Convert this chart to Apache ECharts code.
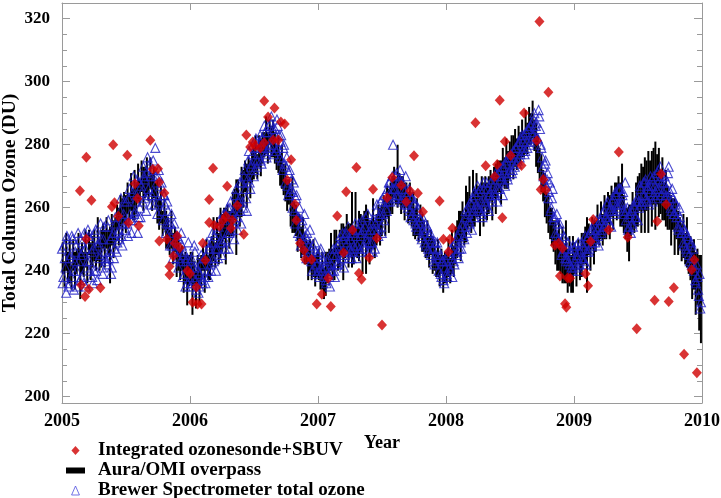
<!DOCTYPE html>
<html><head><meta charset="utf-8">
<script src="https://cdn.jsdelivr.net/npm/echarts@6/dist/echarts.min.js"></script>
<style>html,body{margin:0;padding:0;background:#fff}#c{width:721px;height:498px}</style>
</head><body><div id="c"></div>
<script>
// ---------- tick labels ----------
const xTickYears = [2005, 2006, 2007, 2008, 2009, 2010];
const yTickValues = [200, 220, 240, 260, 280, 300, 320];
const yMinorTickValues = [205, 210, 215, 225, 230, 235, 245, 250, 255, 265, 270, 275, 285, 290, 295, 305, 310, 315];
const years = [2005, 2006, 2007, 2008, 2009];

// ---------- Integrated ozonesonde+SBUV (red diamonds) ----------
const sondeDates = [
  2005.14, 2005.15, 2005.19, 2005.19, 2005.18, 2005.21, 2005.23, 2005.30, 2005.39, 2005.40, 2005.41, 2005.44,
  2005.51, 2005.52, 2005.57, 2005.59, 2005.60, 2005.69, 2005.71, 2005.75, 2005.76, 2005.80, 2005.76, 2005.82,
  2005.90, 2005.88, 2005.92, 2005.87, 2005.84, 2005.84, 2005.98, 2006.00,
  2006.05, 2006.02, 2006.06, 2006.09, 2006.10, 2006.12, 2006.15, 2006.18, 2006.15, 2006.19, 2006.23, 2006.26,
  2006.28, 2006.33, 2006.32, 2006.29, 2006.37, 2006.42, 2006.44, 2006.47, 2006.49, 2006.51, 2006.55, 2006.58,
  2006.58, 2006.61, 2006.66, 2006.65, 2006.69, 2006.71, 2006.74, 2006.79, 2006.76, 2006.82, 2006.83, 2006.86,
  2006.89, 2006.90, 2006.95,
  2006.99, 2007.03, 2007.08, 2007.10, 2007.15, 2007.20, 2007.22, 2007.27, 2007.30, 2007.32, 2007.34, 2007.40,
  2007.43, 2007.46, 2007.50, 2007.54, 2007.58, 2007.65, 2007.69, 2007.72, 2007.78, 2007.75, 2007.82, 2007.95,
  2007.98, 2008.03, 2008.02, 2008.05,
  2008.23, 2008.31, 2008.40, 2008.38, 2008.42, 2008.44, 2008.46, 2008.505, 2008.59, 2008.61, 2008.71, 2008.73,
  2008.76, 2008.74, 2008.78, 2008.80, 2008.85, 2008.88, 2008.91, 2008.89, 2008.95, 2008.93, 2008.94, 2008.97,
  2009.09, 2009.11, 2009.13, 2009.15, 2009.27, 2009.35, 2009.42, 2009.49, 2009.63, 2009.65, 2009.68, 2009.72,
  2009.74, 2009.78, 2009.86, 2009.92, 2009.94, 2009.96
];
const sondeValues = [
  265.4, 235.5, 276.0, 250.1, 231.8, 234.1, 262.4, 234.6, 260.3, 280.0, 261.6, 257.3,
  276.7, 255.2, 267.6, 262.9, 254.3, 281.4, 272.2, 272.4, 268.1, 264.7, 249.4, 250.0,
  251.0, 248.7, 247.3, 244.7, 241.3, 238.7, 240.0, 239.0,
  234.8, 230.0, 229.4, 229.4, 248.7, 243.3, 262.6, 272.5, 255.3, 254.4, 254.1, 256.0,
  257.3, 256.0, 253.5, 266.8, 260.7, 251.6, 283.1, 279.3, 280.9, 279.6, 279.0, 280.6,
  293.9, 288.8, 291.7, 281.5, 281.5, 287.2, 286.6, 275.2, 268.7, 261.1, 256.0, 248.7,
  246.5, 243.6, 243.6,
  229.4, 232.5, 237.6, 228.6, 257.4, 245.7, 265.1, 252.9, 272.8, 239.2, 237.3, 244.1,
  265.9, 250.3, 222.8, 263.2, 269.6, 267.1, 261.9, 265.3, 264.6, 276.5, 258.7, 262.1,
  250.0, 250.0, 246.0, 253.5,
  287.0, 273.3, 273.7, 269.9, 294.1, 256.8, 281.0, 276.6, 273.4, 290.1, 281.3, 319.1,
  269.0, 265.8, 265.6, 296.7, 248.1, 248.7, 247.1, 238.3, 237.7, 229.5, 228.4, 237.6,
  239.0, 235.2, 249.3, 256.3, 252.9, 277.7, 250.6, 221.6, 230.6, 255.7, 270.7, 261.0,
  230.2, 234.6, 213.5, 240.3, 243.5, 207.6
];

// ---------- Aura/OMI overpass (black bars), one value every 5 days ----------
const omi2005 = [244,239,246,241,243,238, 245,240,243,247,239,244, 242,247,241,249,243,246, 248,244,250,245,247,251, 247,252,249,245,253,250, 252,257,254,259,256,260, 258,263,260,265,261,264, 263,268,265,270,266,268, 270,266,271,265,268,264, 262,258,261,255,258,253, 252,249,253,247,250,245, 246,242,244,239,241,237,240];
const omiErr2005 = [5,4,6,5,7,4, 5,6,4,5,8,5, 4,6,5,4,6,5, 5,4,7,5,6,4, 6,5,4,9,5,6, 5,4,6,5,7,5, 6,5,4,6,5,8, 5,6,4,5,7,5, 6,4,5,6,5,4, 7,5,6,4,5,6, 5,4,6,5,4,7, 6,5,4,6,5,8,5];
const omi2006 = [241,236,239,234,240,237, 240,244,239,245,241,243, 246,250,245,251,247,252, 252,255,251,256,253,255, 258,261,257,263,259,265, 266,270,267,272,269,273, 274,277,273,278,276,279, 280,283,279,284,281,282, 279,276,277,272,273,269, 268,264,265,260,261,257, 256,252,254,249,251,247, 246,243,245,241,244,240,242];
const omiErr2006 = [5,10,4,6,5,7, 5,4,6,5,4,6, 5,7,4,6,5,8, 6,5,9,5,6,4, 7,5,12,6,5,8, 6,5,7,4,6,5, 5,6,4,5,6,5, 4,6,5,4,5,6, 5,4,6,5,7,5, 6,5,4,6,9,5, 5,6,4,5,6,5, 4,6,5,4,6,5,4];
const omi2007 = [242,238,240,236,239,241, 243,246,242,245,248,244, 247,250,246,249,252,248, 250,253,248,255,249,251, 252,248,254,250,253,249, 251,255,250,253,257,254, 256,260,257,262,259,263, 264,268,265,270,266,264, 265,262,264,260,262,259, 258,255,257,253,256,252, 251,248,250,246,249,245, 245,242,244,240,243,239,241];
const omiErr2007 = [5,4,6,5,7,5, 4,6,5,8,5,4, 6,5,9,5,6,7, 5,12,6,10,5,8, 6,9,5,11,6,7, 5,8,6,5,4,6, 5,4,6,5,7,5, 6,5,4,10,5,6, 5,6,4,5,6,5, 7,5,6,4,5,6, 5,4,6,5,4,6, 5,4,6,5,4,6,5];
const omi2008 = [241,244,240,246,243,248, 250,254,251,256,253,258, 259,262,257,263,260,264, 262,259,264,261,265,262, 264,267,263,268,266,269, 270,268,273,271,274,272, 275,278,276,279,277,280, 279,282,280,284,282,286, 285,288,283,280,277,274, 271,267,264,260,258,255, 254,251,249,246,248,244, 245,242,246,240,243,239,242];
const omiErr2008 = [5,6,4,7,5,6, 6,5,8,6,5,9, 6,8,5,9,6,7, 5,8,6,7,5,6, 6,5,7,5,8,6, 5,7,6,5,8,6, 6,5,7,6,5,6, 5,6,4,7,5,6, 5,6,5,7,6,5, 6,5,7,5,6,5, 6,5,7,6,8,5, 9,6,10,7,8,6,9];
const omi2009 = [244,241,246,242,245,247, 248,245,250,246,252,249, 251,255,252,256,253,257, 256,260,257,262,259,263, 262,265,261,264,258,255, 253,252,256,259,257,261, 262,265,263,266,264,267, 265,268,266,270,267,269, 268,265,266,262,263,260, 259,256,258,254,256,252, 252,249,251,247,249,245, 244,240,242,236,238,233,231];
const omiErr2009 = [5,6,4,5,7,5, 6,12,5,6,5,7, 5,6,4,6,5,7, 6,5,7,5,6,5, 6,5,7,10,6,5, 7,9,5,6,5,7, 8,6,11,7,12,8, 13,7,12,9,14,8, 11,7,10,6,9,7, 6,8,5,9,6,7, 5,6,7,5,8,6, 7,9,8,10,9,12,14];

// ---------- Brewer Spectrometer total ozone (blue triangles) ----------
// set A: days 2, 6, 10, ... of each year
const brewer2005 = [236,248,241,251,235, 244,238,250,234,246, 240,252,237,245, 249,236,247,241,253, 243,250,238,247, 252,240,248,244,255, 241,250,246,243, 254,244,250,241,252, 247,255,249,253, 259,251,256,262,253, 255,263,258,252, 265,258,262,269,257, 260,267,262,270, 263,271,266,274,261, 272,265,279,268, 270,262,267,259,264, 261,255,259,252, 255,248,253,246,250, 244,250,243,248, 245,239,243,236,241];
const brewer2006 = [243,236,241,246,234, 240,235,242,237,244, 238,245,240,247, 242,249,244,251,240, 247,254,249,245, 256,250,258,252,247, 260,253,258,250, 264,257,262,268,255, 262,270,266,259, 275,268,273,277,270, 279,273,277,281, 275,282,279,284,276, 284,279,287,282, 280,285,278,286,283, 281,275,279,274, 273,267,271,265,269, 265,259,263,257, 257,251,255,249,258, 246,252,248,253, 243,248,241,246,242];
const brewer2007 = [240,246,241,244,238, 237,243,239,235,242, 245,240,247,242, 243,249,246,252,241, 251,246,254,247, 246,252,248,255,244, 253,247,251,256, 248,254,250,258,246, 253,249,256,247, 259,253,257,262,252, 258,264,260,266, 268,262,266,280,263, 270,264,268,272, 262,268,265,270,261, 265,259,263,258, 261,255,259,253,257, 251,257,252,255, 253,247,251,245,249, 243,249,244,247, 244,239,243,237,241];
const brewer2008 = [239,245,241,247,238, 243,249,245,251,247, 249,255,251,257, 254,260,256,262,253, 259,265,261,267, 260,266,258,268,263, 261,266,259,265, 263,269,265,271,262, 271,266,270,264, 268,274,270,276,272, 277,272,275,279, 274,280,276,282,278, 283,278,281,285, 280,286,284,288,282, 287,282,289,280, 276,270,274,267,271, 265,259,263,257, 257,251,255,249,253, 245,250,247,243, 247,243,246,241,248];
const brewer2009 = [243,248,244,240,246, 249,244,247,242,250, 246,252,248,251, 255,250,253,248,256, 252,258,254,257, 261,256,259,254,262, 259,265,261,266, 266,261,264,259,268, 259,253,257,252, 255,261,257,262,256, 260,266,262,268, 268,263,266,261,270, 269,264,267,263, 271,266,273,268,265, 270,264,268,273, 265,259,263,258,261, 259,253,257,252, 254,248,252,246,250, 243,249,244,240, 237,242,234,239,230];
// set B: days 0, 4, 8, ... of each year
const brewerB2005 = [247,238,244,233,250, 236,245,251,240,243, 248,235,243,250, 238,246,252,235,243, 251,240,246,236, 240,253,237,249,245, 250,239,254,244, 242,256,246,239,251, 244,257,246,252, 250,263,248,258,255, 262,251,266,256, 256,270,259,264,252, 268,257,265,273, 269,259,276,264,270, 264,275,261,270, 258,272,264,268,256, 264,252,262,255, 248,258,244,255,247, 251,241,246,252, 238,246,235,244,249];
const brewerB2006 = [235,244,238,248,237, 241,233,239,245,236, 244,236,249,238, 248,240,252,243,247, 253,244,256,250, 249,258,247,255,260, 252,262,255,259, 256,266,253,263,259, 268,260,272,263, 269,278,266,274,280, 272,282,275,279, 283,274,280,286,277, 278,286,280,289, 285,277,283,288,279, 276,283,272,280, 268,276,264,272,266, 260,268,255,264, 252,260,248,256,250, 251,244,250,246, 247,240,244,249,239];
const brewerB2007 = [245,238,247,240,243, 241,236,244,238,240, 240,247,238,245, 248,242,251,244,250, 245,252,249,244, 250,244,253,247,251, 248,255,246,252, 253,247,257,249,252, 249,255,246,253, 255,261,251,258,254, 263,256,262,259, 262,268,264,270,266, 266,271,263,269, 268,263,266,261,264, 260,266,257,263, 256,262,254,260,255, 256,250,253,249, 248,254,246,252,250, 247,242,245,249, 240,245,238,243,236];
const brewerB2008 = [243,238,246,240,244, 248,242,250,246,244, 253,247,254,250, 259,252,258,255,261, 263,257,264,260, 265,259,262,257,266, 262,268,260,264, 268,262,267,264,270, 266,272,269,273, 273,267,275,269,271, 276,271,278,273, 279,275,281,277,283, 281,277,284,279, 285,281,287,283,290, 286,282,291,285, 279,273,268,275,269, 263,268,260,266, 256,252,258,250,255, 249,246,251,244, 244,249,242,246,240];
const brewerB2009 = [247,241,245,249,242, 244,248,243,251,246, 251,247,253,249, 253,249,256,251,254, 256,253,259,255, 257,262,255,260,259, 263,258,264,260, 261,266,262,265,258, 256,260,254,258, 259,254,260,257,263, 262,267,261,264, 264,269,262,267,265, 267,262,270,265, 266,272,269,264,270, 268,263,266,271, 263,260,266,258,262, 257,254,260,255, 252,249,253,247,251, 245,248,242,247, 241,236,238,232,228];

// ---------- build library data ----------
const omiYears = [omi2005, omi2006, omi2007, omi2008, omi2009];
const omiErrYears = [omiErr2005, omiErr2006, omiErr2007, omiErr2008, omiErr2009];
const brewerYears = [brewer2005, brewer2006, brewer2007, brewer2008, brewer2009];
const brewerBYears = [brewerB2005, brewerB2006, brewerB2007, brewerB2008, brewerB2009];

const omiData = [];
omiYears.forEach((arr, k) => arr.forEach((v, i) => {
  const e = omiErrYears[k][i];
  omiData.push([years[k] + (5 * i + 2) / 365, v - e, v + e]);
}));
const brewerData = [];
brewerYears.forEach((arr, k) => arr.forEach((v, i) => {
  brewerData.push([years[k] + (4 * i + 2) / 365, v]);
}));
brewerBYears.forEach((arr, k) => arr.forEach((v, i) => {
  brewerData.push([years[k] + (4 * i) / 365, v]);
}));
const sondeData = sondeDates.map((d, i) => [d, sondeValues[i]]);

const FONT = '"Liberation Serif", "Times New Roman", serif';
const axisGrey = '#9a9a9a';

const chart = echarts.init(document.getElementById('c'), null, {renderer: 'canvas'});

const yBase = {type: 'value', min: 198, max: 325, splitLine: {show: false}};
const xBase = {type: 'value', min: xTickYears[0], max: xTickYears[xTickYears.length - 1], interval: 1, splitLine: {show: false}};

chart.setOption({
  animation: false,
  backgroundColor: '#ffffff',
  grid: {left: 62, right: 19, top: 3, bottom: 95, containLabel: false, outerBoundsMode: 'none'},
  xAxis: [
    Object.assign({}, xBase, {
      position: 'bottom',
      axisLine: {show: true, onZero: false, lineStyle: {color: axisGrey, width: 1}},
      axisTick: {show: true, inside: true, length: 7, lineStyle: {color: axisGrey}},
      axisLabel: {show: true, margin: 9, color: '#000', fontFamily: FONT, fontWeight: 'bold', fontSize: 18,
                  formatter: v => String(v)},
      name: 'Year', nameLocation: 'middle', nameGap: 31, nameMoveOverlap: false,
      nameTextStyle: {color: '#000', fontFamily: FONT, fontWeight: 'bold', fontSize: 18}
    }),
    Object.assign({}, xBase, {
      position: 'top',
      axisLine: {show: true, onZero: false, lineStyle: {color: axisGrey, width: 1}},
      axisTick: {show: true, inside: true, length: 7, lineStyle: {color: axisGrey}},
      axisLabel: {show: false}
    })
  ],
  yAxis: [
    Object.assign({}, yBase, {
      position: 'left',
      axisLine: {show: true, lineStyle: {color: axisGrey, width: 1}},
      axisTick: {show: true, inside: true, length: 8, customValues: yTickValues, lineStyle: {color: axisGrey}},
      axisLabel: {show: true, customValues: yTickValues, margin: 12, color: '#000', fontFamily: FONT, fontWeight: 'bold', fontSize: 17},
      name: 'Total Column Ozone (DU)', nameLocation: 'middle', nameGap: 42, nameRotate: 90, nameMoveOverlap: false,
      nameTextStyle: {color: '#000', fontFamily: FONT, fontWeight: 'bold', fontSize: 19.5}
    }),
    Object.assign({}, yBase, {
      position: 'left',
      axisLine: {show: false},
      axisTick: {show: true, inside: true, length: 5, customValues: yMinorTickValues, lineStyle: {color: axisGrey}},
      axisLabel: {show: false}
    }),
    Object.assign({}, yBase, {
      position: 'right',
      axisLine: {show: true, lineStyle: {color: axisGrey, width: 1}},
      axisTick: {show: true, inside: true, length: 8, customValues: yTickValues, lineStyle: {color: axisGrey}},
      axisLabel: {show: false}
    }),
    Object.assign({}, yBase, {
      position: 'right',
      axisLine: {show: false},
      axisTick: {show: true, inside: true, length: 5, customValues: yMinorTickValues, lineStyle: {color: axisGrey}},
      axisLabel: {show: false}
    })
  ],
  legend: {
    orient: 'vertical', left: 66, top: 441, padding: 0, height: 60,
    itemWidth: 19, itemHeight: 9, itemGap: 1,
    selectedMode: false,
    textStyle: {color: '#000', fontFamily: FONT, fontWeight: 'bold', fontSize: 19, lineHeight: 18, padding: [0, 0, 0, 8]},
    data: [
      {name: 'Integrated ozonesonde+SBUV', icon: 'path://M5,0 L10,5.5 L5,11 L0,5.5 Z', itemStyle: {color: '#d00000'}},
      {name: 'Aura/OMI overpass', icon: 'path://M0,0 L19,0 L19,6 L0,6 Z', itemStyle: {color: '#000000'}},
      {name: 'Brewer Spectrometer total ozone', icon: 'path://M3.5,0 L7,8 L0,8 Z',
       itemStyle: {color: 'rgba(0,0,0,0)', borderColor: '#5050e0', borderWidth: 1}}
    ]
  },
  series: [
    {
      name: 'Aura/OMI overpass', type: 'custom', xAxisIndex: 0, yAxisIndex: 0, z: 1,
      itemStyle: {color: '#000000'},
      encode: {x: 0, y: [1, 2]},
      data: omiData,
      renderItem: function (params, api) {
        const x = api.value(0);
        const lo = api.coord([x, api.value(1)]);
        const hi = api.coord([x, api.value(2)]);
        return {type: 'rect', shape: {x: lo[0] - 1, y: hi[1], width: 2, height: lo[1] - hi[1]},
                style: {fill: '#000000'}};
      }
    },
    {
      name: 'Brewer Spectrometer total ozone', type: 'scatter', xAxisIndex: 0, yAxisIndex: 0, z: 2,
      symbol: 'triangle', symbolSize: 9,
      itemStyle: {color: 'rgba(0,0,0,0)', borderColor: '#1e1ec4', borderWidth: 1.1},
      data: brewerData
    },
    {
      name: 'Integrated ozonesonde+SBUV', type: 'scatter', xAxisIndex: 0, yAxisIndex: 0, z: 3,
      symbol: 'diamond', symbolSize: [10, 11],
      itemStyle: {color: '#d00000'},
      data: sondeData
    }
  ]
});
</script>
</body></html>
